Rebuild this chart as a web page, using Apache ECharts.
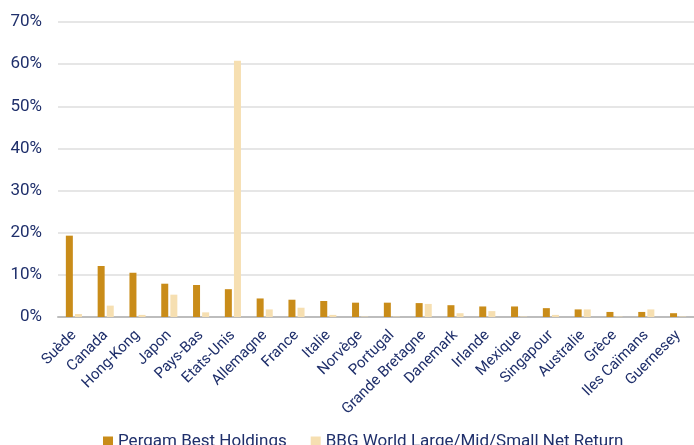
<!DOCTYPE html>
<html style="height: 100%">
<head>
<meta charset="UTF-8">
<title>Repartition pays</title>
<script src="https://cdn.jsdelivr.net/npm/echarts@6/dist/echarts.min.js"></script>
</head>
<body style="height: 100%;margin: 0">
<div id="chart" style="width:694px;height:445px"></div>
<script type="text/javascript">
// countries on the x axis
var countries = ['Suède','Canada','Hong-Kong','Japon','Pays-Bas','Etats-Unis','Allemagne','France','Italie','Norvège',
	'Portugal','Grande Bretagne','Danemark','Irlande','Mexique','Singapour','Australie','Grèce','Iles Caïmans','Guernesey'];
// weights in %
var pergamValues = [19.3, 12.1, 10.5, 7.9, 7.6, 6.6, 4.4, 4.1, 3.8, 3.4, 3.4, 3.3, 2.8, 2.5, 2.5, 2.1, 1.8, 1.2, 1.2, 0.9];
var bbgValues = [0.7, 2.7, 0.5, 5.3, 1.1, 60.8, 1.8, 2.2, 0.5, 0.1, 0.1, 3.1, 0.9, 1.4, 0.1, 0.5, 1.8, 0.1, 1.8, 0.1];
var seriesNames = ['Pergam Best Holdings', 'BBG World Large/Mid/Small Net Return'];

var textColor = '#1f2f6b';
var myChart = echarts.init(document.getElementById('chart'));
var option = {
	textStyle: { fontFamily: 'Roboto' },
	grid: { left: 58, right: 0, top: 22, bottom: 128 },
	legend: {
		bottom: -10,
		left: 98,
		itemWidth: 10,
		itemHeight: 10,
		itemGap: 24,
		icon: 'rect',
		textStyle: { color: textColor, fontSize: 17 }
	},
	xAxis: {
		type: 'category',
		data: countries,
		axisLine: { lineStyle: { color: '#bdbdbd', width: 2 } },
		axisTick: { show: false },
		axisLabel: { rotate: 45, color: textColor, fontSize: 15, interval: 0, margin: 16 }
	},
	yAxis: {
		type: 'value',
		min: 0,
		max: 70,
		interval: 10,
		axisLabel: { formatter: '{value}%', color: textColor, fontSize: 17, margin: 16 },
		splitLine: { lineStyle: { color: '#e6e6e6', width: 2 } }
	},
	series: [{
		name: seriesNames[0],
		type: 'bar',
		data: pergamValues,
		barWidth: 7,
		barGap: '30%',
		itemStyle: { color: '#c98c19' }
	}, {
		name: seriesNames[1],
		type: 'bar',
		data: bbgValues,
		barWidth: 7,
		itemStyle: { color: '#f6dfb1' }
	}]
};
myChart.setOption(option);
</script>
</body>
</html>
